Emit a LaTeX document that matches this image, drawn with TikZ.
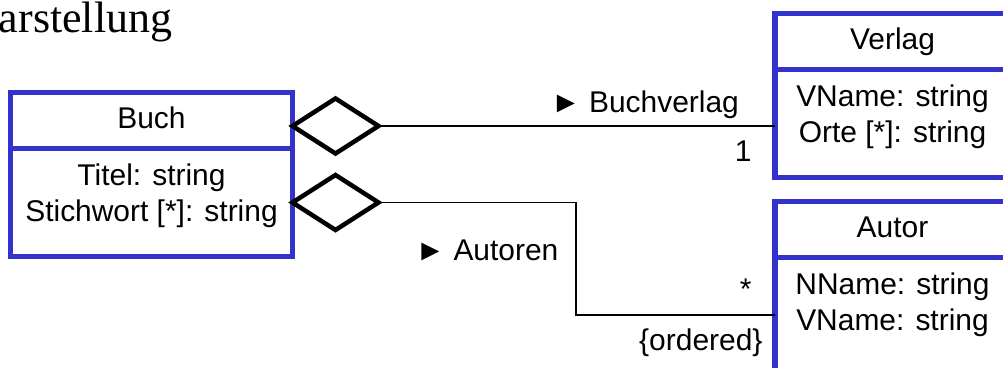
\documentclass[tikz,border=0pt]{standalone}
\usepackage{fontspec}
\setmainfont{Liberation Sans}
\newfontfamily\titlefont{Liberation Serif}
\usepackage{xcolor}
\usetikzlibrary{arrows.meta, positioning, shapes.geometric}
\definecolor{umlblue}{RGB}{51,51,204}

\begin{document}
\begin{tikzpicture}[thick, font=\fontsize{21.3}{25.6}\selectfont,
  class node/.style={rectangle,draw=umlblue,line width=3.8pt,outer sep=0pt,
    minimum height=1.4cm,text height=0.55cm,text depth=0.125cm},
  attr node/.style={class node,minimum height=0pt,align=center,inner ysep=0.375cm,
    text height=1.45cm,text depth=0.5cm},
  agg node/.style={diamond,draw,line width=3.2pt,fill=white,minimum width=2.15cm,
    minimum height=1.375cm,inner sep=0pt,outer sep=0pt,anchor=west},
  assoc/.style={line width=1.4pt},
  label node/.style={inner sep=0pt}]

  \useasboundingbox (0,0) rectangle (25.075,9.175);
  \clip (0,0) rectangle (25.075,9.175);

  \node[label node, anchor=base east, font=\titlefont\fontsize{31.3}{36}\selectfont] (Titel) at (4.325,8.35) {Darstellung};

  % Klassen
  \node[class node, minimum width=7.05cm] (Buch) at (3.7875,6.1625) {Buch};
  \node[attr node, minimum width=7.05cm, below=0pt of Buch] (BuchAttr) {Titel: string\\Stichwort [*]: string};

  \node[class node, minimum width=5.875cm] (Verlag) at (22.3125,8.1375) {Verlag};
  \node[attr node, minimum width=5.875cm, below=0pt of Verlag] (VerlagAttr) {VName: string\\Orte [*]: string};

  \node[class node, minimum width=5.875cm, below=0.6cm of VerlagAttr] (Autor) {Autor};
  \node[attr node, minimum width=5.875cm, text depth=1.3cm, below=0pt of Autor] (AutorAttr) {NName: string\\VName: string};

  % Aggregationen
  \node[agg node] (AggVerlag) at ([yshift=-0.1375cm]Buch.east) {};
  \node[agg node] (AggAutor) at (BuchAttr.east) {};

  \coordinate (Knick) at (14.4,1.3);
  \draw[assoc] (AggVerlag.east) -- (AggVerlag.east -| VerlagAttr.west);
  \draw[assoc] (AggAutor.east) -| (Knick) -- (Knick -| AutorAttr.west);

  \node[label node, anchor=base] (LblVerlag) at (16.125,6.35) {► Buchverlag};
  \node[label node, anchor=base east] (MultVerlag) at (18.8,5.125) {1};
  \node[label node, anchor=base] (LblAutor) at (12.175,2.65) {► Autoren};
  \node[label node, anchor=base east] (MultAutor) at (18.8,1.7) {*};
  \node[label node, anchor=base east] (Ordered) at (19.075,0.425) {\{ordered\}};
\end{tikzpicture}
\end{document}
